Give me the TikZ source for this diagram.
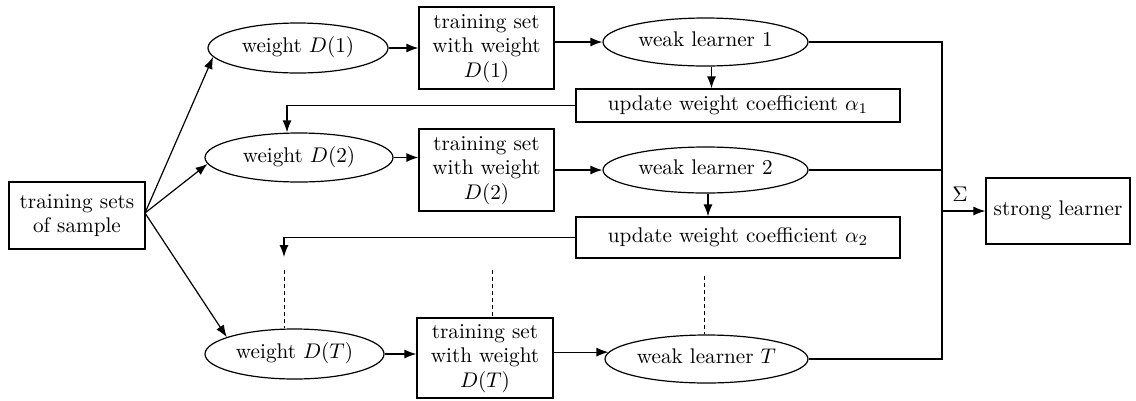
\documentclass[tikz,border=0pt]{standalone}
\usepackage{graphicx}
\usetikzlibrary{shapes.geometric,arrows.meta,calc}
\newcommand{\tx}[1]{\scalebox{2.12}{\begin{tabular}{@{}c@{}}#1\end{tabular}}}
\begin{document}
\begin{tikzpicture}[x=1pt,y=-1pt,
  every node/.style={font=\fontsize{10}{11.6}\selectfont, line width=1.2pt},
  box/.style={draw, rectangle, inner sep=0pt, align=center},
  ell/.style={draw, ellipse, inner sep=0pt},
  conn/.style={line width=1.2pt},
  arr/.style={conn,-{Latex[length=12pt,width=9pt]}},
  dsh/.style={line width=1pt, dash pattern=on 4pt off 3pt}]
\useasboundingbox (0,0) rectangle (1136,400);
\fill[white] (0,0) rectangle (1136,400);
% nodes
\node[box, minimum width=136pt, minimum height=67pt] (src) at (77,215.5) {\tx{training sets\\of sample}};
\node[ell, minimum width=180pt, minimum height=50pt] (w1) at (298,48) {\tx{weight $D(1)$}};
\node[ell, minimum width=188pt, minimum height=49pt] (w2) at (299,157.5) {\tx{weight $D(2)$}};
\node[ell, minimum width=179pt, minimum height=50pt] (wT) at (294.5,354) {\tx{weight $D(T)$}};
\node[box, minimum width=135pt, minimum height=82pt] (t1) at (486.5,48) {\tx{training set\\with weight\\$D(1)$}};
\node[box, minimum width=135pt, minimum height=82pt] (t2) at (486.5,170) {\tx{training set\\with weight\\$D(2)$}};
\node[box, minimum width=136pt, minimum height=80pt] (tT) at (485,358) {\tx{training set\\with weight\\$D(T)$}};
\node[ell, minimum width=205pt, minimum height=48pt] (l1) at (705.5,42) {\tx{weak learner 1}};
\node[ell, minimum width=205pt, minimum height=46pt] (l2) at (705.5,170) {\tx{weak learner 2}};
\node[ell, minimum width=203pt, minimum height=48pt] (lT) at (706.5,359) {\tx{weak learner $T$}};
\node[box, minimum width=324pt, minimum height=33pt] (a1) at (738,105.5) {\tx{update weight coefficient $\alpha_1$}};
\node[box, minimum width=324pt, minimum height=41pt] (a2) at (738,237.5) {\tx{update weight coefficient $\alpha_2$}};
\node[box, minimum width=144pt, minimum height=66pt] (sl) at (1058,211) {\tx{strong learner}};
\node (sig) at (960,197) {\tx{$\Sigma$}};
% coordinates
\coordinate (fan) at (145,213);
\coordinate (bus) at (942,211);
\coordinate (fbT) at (284,257);
\coordinate (dT) at (284,270);
\coordinate (dM) at (492,270);
\coordinate (dR) at (704,276);
% connectors
\draw[arr] (fan) -- (w1.186);
\draw[arr] (fan) -- (w2.184);
\draw[arr] (fan) -- (wT.166);
\draw[arr] (w1.east) -- (t1.west);
\draw[arr] (w2.east) -- (w2.east -| t2.west);
\draw[arr] (wT.east) -- (wT.east -| tT.west);
\draw[arr] (l1.west -| t1.east) -- (l1.west);
\draw[arr] (t2.east) -- (l2.west);
\draw[arr] (lT.176.5 -| tT.east) -- (lT.176.5);
\draw[arr] ([xshift=6pt]l1.south) -- ([xshift=6pt]l1.south |- a1.north);
\draw[arr] ([xshift=2.5pt]l2.south) -- ([xshift=2.5pt]l2.south |- a2.north);
\draw[arr] (a1.west) -| ([xshift=-12pt]w2.north);
\draw[arr] (a2.west) -| (fbT);
\draw[dsh] (dT) -- (dT |- wT.north);
\draw[dsh] (dM) -- (dM |- tT.north);
\draw[dsh] (dR) -- (dR |- lT.north);
\draw[conn] (l1.east) -| (bus);
\draw[conn] (lT.east) -| (bus);
\draw[conn] (l2.east) -- (l2.east -| bus);
\draw[arr] (bus) -- (sl.west);
\end{tikzpicture}
\end{document}
